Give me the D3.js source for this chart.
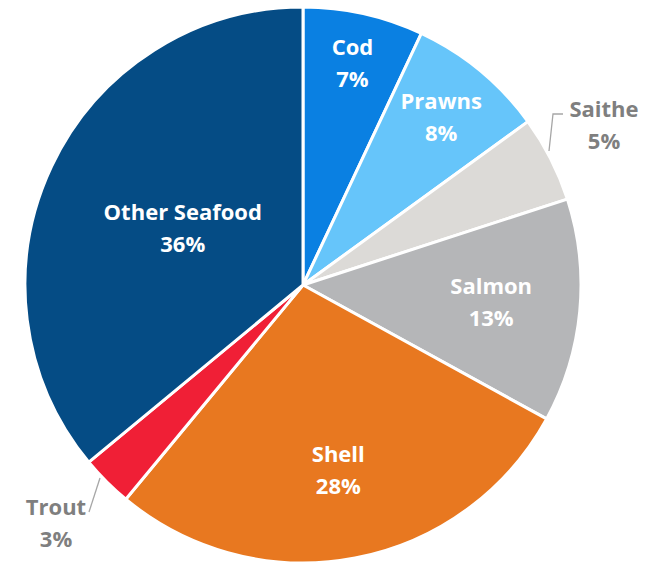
<!DOCTYPE html>
<html>
<head>
<meta charset="utf-8">
<script src="https://cdn.jsdelivr.net/npm/d3@7"></script>
<style>
  html, body { margin: 0; padding: 0; background: #fff; }
  svg text { font-family: "Open Sans", Lato, sans-serif; font-weight: 700; }
</style>
</head>
<body>
<svg id="chart" width="666" height="564"></svg>
<script>
// Share of seafood species, percent
const categories = ["Cod", "Prawns", "Saithe", "Salmon", "Shell", "Trout", "Other Seafood"];
const shares = [7, 8, 5, 13, 28, 3, 36];
const colors = ["#0a80e2", "#66c5fa", "#dcdad7", "#b5b6b8", "#e87820", "#f01f36", "#054c85"];

// Label placement: radius as a fraction of the pie radius, or outside with a leader
const labelRadius = [0.815, 0.78, null, 0.68, 0.678, null, 0.478];
const outsideLabels = {
  "Saithe": { text: [604, 117], line: [[549, 151], [553, 114], [563, 114]] },
  "Trout":  { text: [56, 515],  line: [[100, 478], [89, 512]] }
};

const svg = d3.select("#chart");
const cx = 303, cy = 285, R = 278;
const g = svg.append("g").attr("transform", `translate(${cx},${cy})`);

const pie = d3.pie().sort(null).value(d => d.value);
const arcs = pie(categories.map((c, i) => ({ name: c, value: shares[i], color: colors[i] })));
const arc = d3.arc().innerRadius(0).outerRadius(R);

g.selectAll("path.slice")
  .data(arcs)
  .join("path")
  .attr("class", "slice")
  .attr("d", arc)
  .attr("fill", d => d.data.color)
  .attr("stroke", "#fff")
  .attr("stroke-width", 3)
  .attr("stroke-linejoin", "round");

const fontSize = 22;
const lineGap = 32;
const base = 7.5;

arcs.forEach((d, i) => {
  const pct = d.data.value + "%";
  const mid = (d.startAngle + d.endAngle) / 2;
  if (labelRadius[i] != null) {
    const r = R * labelRadius[i];
    const x = r * Math.sin(mid), y = -r * Math.cos(mid);
    const t = g.append("text")
      .attr("text-anchor", "middle")
      .attr("fill", "#fff")
      .attr("font-size", fontSize);
    t.append("tspan").attr("x", x).attr("y", y - lineGap / 2 + base).text(d.data.name);
    t.append("tspan").attr("x", x).attr("y", y + lineGap / 2 + base).text(pct);
  } else {
    const o = outsideLabels[d.data.name];
    const pts = o.line.map(p => [p[0] - cx, p[1] - cy]);
    g.append("path")
      .attr("d", d3.line()(pts))
      .attr("fill", "none")
      .attr("stroke", "#a6a6a6")
      .attr("stroke-width", 1.3);
    const tx = o.text[0] - cx, ty = o.text[1] - cy;
    const t = g.append("text")
      .attr("text-anchor", "middle")
      .attr("fill", "#7f7f7f")
      .attr("font-size", fontSize);
    t.append("tspan").attr("x", tx).attr("y", ty).text(d.data.name);
    t.append("tspan").attr("x", tx).attr("y", ty + lineGap).text(pct);
  }
});
</script>
</body>
</html>
